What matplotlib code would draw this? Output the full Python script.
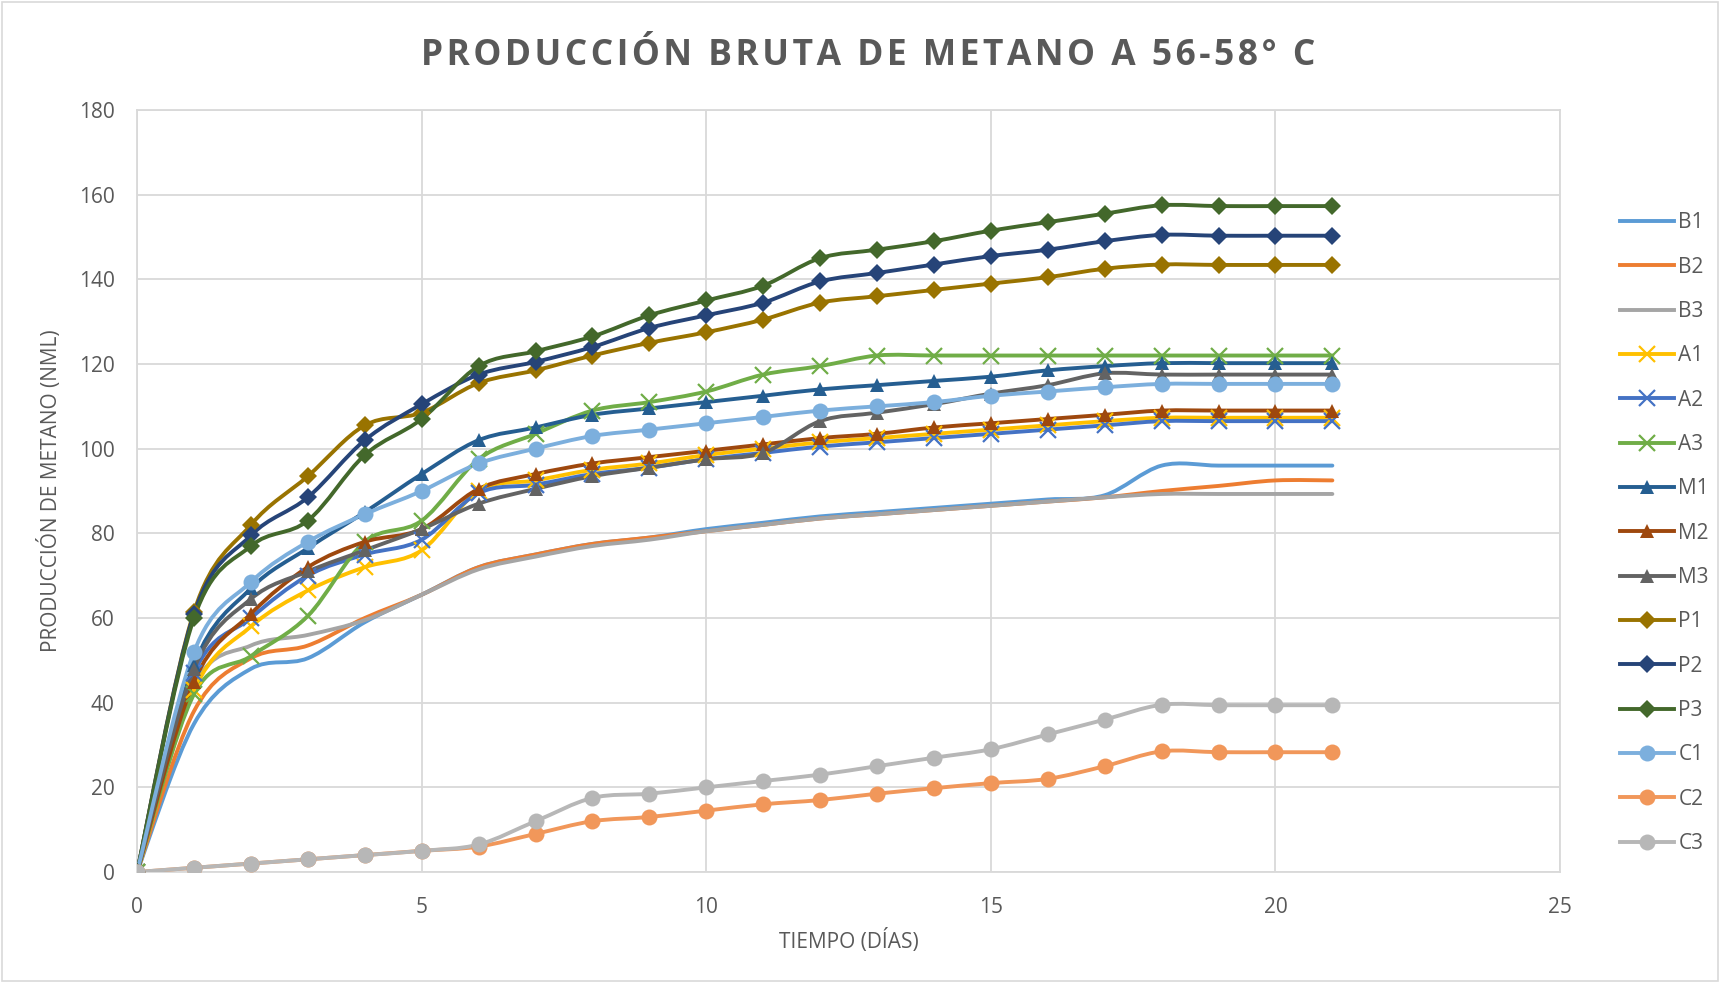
import numpy as np
import matplotlib
matplotlib.use("Agg")
import matplotlib.pyplot as plt
from matplotlib.path import Path
from matplotlib.patches import PathPatch, Rectangle
from matplotlib.lines import Line2D

plt.rcParams['font.family'] = ['Open Sans', 'DejaVu Sans']

days = list(range(22))

B1 = [0, 35, 48, 50.5, 59, 65.5, 72, 75, 77.5, 79, 81, 82.5, 84, 85, 86, 87, 88, 89, 96, 96, 96, 96]
B2 = [0, 38, 50.5, 53.5, 60, 65.5, 72, 75, 77.5, 79, 80.5, 82, 83.5, 84.5, 85.5, 86.5, 87.5, 88.5, 90, 91.2, 92.5, 92.5]
B3 = [0, 44, 53.5, 56, 59.5, 65.5, 71.5, 74.5, 77, 78.5, 80.5, 82, 83.5, 84.5, 85.5, 86.5, 87.5, 88.5, 89.3, 89.3, 89.3, 89.3]
A1 = [0, 43, 58, 66.5, 72, 76, 90, 92.5, 95, 96.5, 98.5, 100, 101.5, 102.5, 103.5, 104.5, 105.5, 106.5, 107.3, 107.3, 107.3, 107.3]
A2 = [0, 47, 60, 70, 75, 78.5, 89.5, 91.5, 94, 95.5, 97.5, 99, 100.5, 101.5, 102.5, 103.5, 104.5, 105.5, 106.5, 106.5, 106.5, 106.5]
A3 = [0, 42, 51, 60.5, 78, 83, 97.5, 103.5, 109, 111, 113.5, 117.5, 119.5, 122, 122, 122, 122, 122, 122, 122, 122, 122]
M1 = [0, 49, 67, 76.5, 85, 94, 102, 105, 108, 109.5, 111, 112.5, 114, 115, 116, 117, 118.5, 119.5, 120.2, 120.2, 120.2, 120.2]
M2 = [0, 45, 61, 72, 78, 81, 90.5, 94, 96.5, 98, 99.5, 101, 102.5, 103.5, 105, 106, 107, 108, 109, 109, 109, 109]
M3 = [0, 48, 64.5, 71, 76, 81, 87, 90.5, 93.5, 95.5, 97.5, 99, 106.5, 108.5, 110.5, 113, 115, 117.8, 117.5, 117.5, 117.5, 117.5]
P1 = [0, 61.5, 82, 93.5, 105.5, 108.5, 115.5, 118.5, 122, 125, 127.5, 130.5, 134.5, 136, 137.5, 139, 140.5, 142.5, 143.5, 143.4, 143.4, 143.4]
P2 = [0, 61, 79.5, 88.5, 102, 110.5, 117.5, 120.5, 124, 128.5, 131.5, 134.5, 139.5, 141.5, 143.5, 145.5, 147, 149, 150.5, 150.3, 150.3, 150.3]
P3 = [0, 60, 77, 83, 98.5, 107, 119.5, 123, 126.5, 131.5, 135, 138.5, 145, 147, 149, 151.5, 153.5, 155.5, 157.5, 157.3, 157.3, 157.3]
C1 = [0, 52, 68.5, 78, 84.5, 90, 96.5, 100, 103, 104.5, 106, 107.5, 109, 110, 111, 112.5, 113.5, 114.5, 115.3, 115.3, 115.3, 115.3]
C2 = [0, 1, 2, 3, 4, 5, 6, 9, 12, 13, 14.5, 16, 17, 18.5, 19.8, 21, 22, 25, 28.5, 28.3, 28.3, 28.3]
C3 = [0, 1, 2, 3, 4, 5, 6.5, 12, 17.5, 18.5, 20, 21.5, 23, 25, 27, 29, 32.5, 36, 39.5, 39.4, 39.4, 39.4]

series = [
    ("B1", B1, "#5B9BD5", None),
    ("B2", B2, "#ED7D31", None),
    ("B3", B3, "#A5A5A5", None),
    ("A1", A1, "#FFC000", "x"),
    ("A2", A2, "#4472C4", "x"),
    ("A3", A3, "#70AD47", "x"),
    ("M1", M1, "#255E91", "^"),
    ("M2", M2, "#9E480E", "^"),
    ("M3", M3, "#636363", "^"),
    ("P1", P1, "#997300", "D"),
    ("P2", P2, "#264478", "D"),
    ("P3", P3, "#43682B", "D"),
    ("C1", C1, "#7CAFDD", "o"),
    ("C2", C2, "#F1975A", "o"),
    ("C3", C3, "#B7B7B7", "o"),
]

marker_size = {"x": 11, "^": 10, "D": 9.5, "o": 11.5}


def smooth_path(x, y, k=1/6):
    # Excel-like smoothed line: cubic Bezier segments with Catmull-Rom handles
    x = np.asarray(x, float)
    y = np.asarray(y, float)
    n = len(x)
    verts = [(x[0], y[0])]
    codes = [Path.MOVETO]
    for i in range(n - 1):
        p0 = i - 1 if i > 0 else i
        p3 = i + 2 if i + 2 < n else i + 1
        c1 = (x[i] + (x[i + 1] - x[p0]) * k, y[i] + (y[i + 1] - y[p0]) * k)
        c2 = (x[i + 1] - (x[p3] - x[i]) * k, y[i + 1] - (y[p3] - y[i]) * k)
        verts += [c1, c2, (x[i + 1], y[i + 1])]
        codes += [Path.CURVE4] * 3
    return Path(verts, codes)


fig = plt.figure(figsize=(17.2, 9.82), dpi=100)
ax = fig.add_axes([0.0797, 0.112, 0.8273, 0.776])

text_col = "#595959"
grid_col = "#D9D9D9"

handles = []
for name, vals, col, mk in series:
    patch = PathPatch(smooth_path(days, vals), facecolor="none", edgecolor=col,
                      lw=2.8, capstyle="round", joinstyle="round", zorder=3)
    ax.add_patch(patch)
    if mk:
        ms = marker_size[mk]
        if mk == "x":
            ax.plot(days, vals, linestyle="none", marker="x", ms=ms, mew=1.6,
                    color=col, zorder=4)
        else:
            ax.plot(days, vals, linestyle="none", marker=mk, ms=ms, mew=0,
                    color=col, zorder=4)
        h = Line2D([], [], color=col, lw=2.8, marker=mk, ms=ms,
                   mew=1.6 if mk == "x" else 0)
    else:
        h = Line2D([], [], color=col, lw=2.8)
    handles.append(h)

ax.set_xlim(0, 25)
ax.set_ylim(0, 180)
ax.set_xticks(range(0, 26, 5))
ax.set_yticks(range(0, 181, 20))
ax.grid(True, color=grid_col, lw=1.3)
ax.set_axisbelow(True)
for s in ax.spines.values():
    s.set_color(grid_col)
    s.set_linewidth(1.3)
ax.tick_params(length=0, colors=text_col, labelsize=15)
ax.tick_params(axis="y", pad=16)
ax.tick_params(axis="x", pad=18)

ax.set_xlabel("TIEMPO (DÍAS)", color=text_col, fontsize=15, labelpad=8)
ax.set_ylabel("PRODUCCIÓN DE METANO (NML)", color=text_col, fontsize=15, labelpad=12)

title = "PRODUCCIÓN BRUTA DE METANO A 56-58° C"
spaced = "\u200a".join(title)
fig.text(0.505, 0.943, spaced, ha="center", va="center",
         fontsize=25.5, fontweight="bold", color=text_col)

fig.legend(handles, [s[0] for s in series], loc="center left",
           bbox_to_anchor=(0.937, 0.457), frameon=False, fontsize=15,
           labelcolor=text_col, handlelength=2.6, labelspacing=1.12,
           handletextpad=0.2, borderaxespad=0)

fig.patches.append(Rectangle((0.001, 0.001), 0.998, 0.997, transform=fig.transFigure,
                             fill=False, edgecolor="#D9D9D9", lw=1.2))

fig.savefig("out.png", dpi=100)
